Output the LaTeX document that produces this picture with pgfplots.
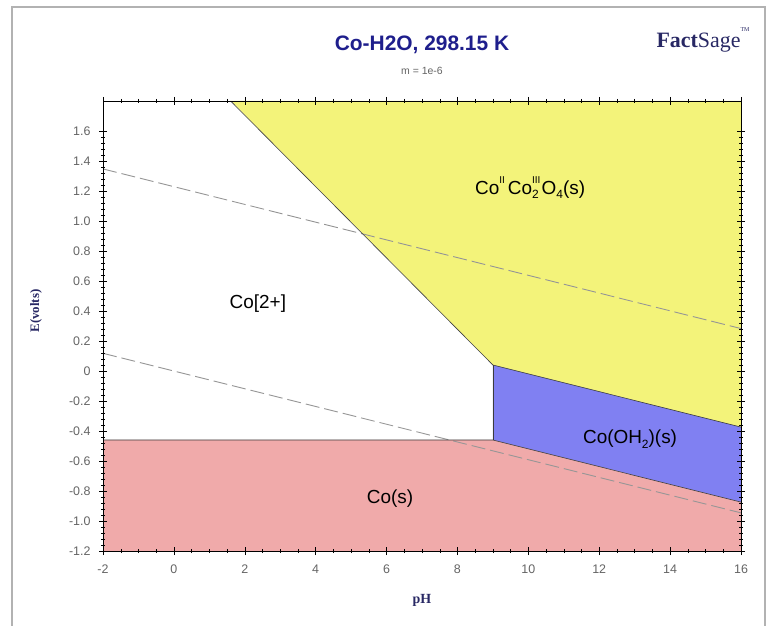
\documentclass[border=0pt]{standalone}
\usepackage{pgfplots}
\pgfplotsset{compat=1.18}
\usepackage{fontspec}
\setmainfont{Liberation Sans}
\newfontfamily\serifbf{Liberation Serif}
\definecolor{yel}{RGB}{243,243,122}
\definecolor{blu}{RGB}{128,128,242}
\definecolor{pnk}{RGB}{240,170,170}
\definecolor{navy}{RGB}{30,30,140}
\definecolor{lab}{RGB}{40,40,100}
\definecolor{tickc}{RGB}{100,100,100}
\definecolor{dashc}{RGB}{150,150,150}
\definecolor{bnd}{RGB}{60,60,60}
\begin{document}
\begin{tikzpicture}
\begin{axis}[name=ax, at={(0,0)}, anchor=south west, scale only axis,
  width=638bp, height=450bp,
  xmin=-2, xmax=16, ymin=-1.2, ymax=1.8,
  xtick={-2,0,2,4,6,8,10,12,14,16},
  xticklabels={-2,0,2,4,6,8,10,12,14,16},
  ytick={-1.2,-1,-0.8,-0.6,-0.4,-0.2,0,0.2,0.4,0.6,0.8,1,1.2,1.4,1.6},
  yticklabels={-1.2,-1.0,-0.8,-0.6,-0.4,-0.2,0,0.2,0.4,0.6,0.8,1.0,1.2,1.4,1.6},
  minor x tick num=3, minor y tick num=4,
  tick align=center, major tick length=8bp, minor tick length=4bp,
  tick style={black, line width=0.4pt},
  axis line style={black, line width=0.7pt},
  ticklabel style={font=\fontsize{12.5}{14}\selectfont, text=tickc},
  xticklabel style={yshift=-6bp},
  yticklabel style={xshift=-5bp},
  axis on top,
]
% regions
\addplot[fill=yel, draw=none] coordinates {(1.6,1.8) (16,1.8) (16,-0.374) (9,0.04)} --cycle;
\addplot[fill=white, draw=none] coordinates {(-2,1.8) (1.6,1.8) (9,0.04) (9,-0.46) (-2,-0.46)} --cycle;
\addplot[fill=blu, draw=none] coordinates {(9,0.04) (16,-0.374) (16,-0.874) (9,-0.46)} --cycle;
\addplot[fill=pnk, draw=none] coordinates {(-2,-1.2) (16,-1.2) (16,-0.874) (9,-0.46) (-2,-0.46)} --cycle;
% water stability lines
\addplot[dashc, dash pattern=on 14bp off 5bp, line width=0.9bp] coordinates {(-2,1.347) (16,0.283)};
\addplot[dashc, dash pattern=on 14bp off 5bp, line width=0.9bp] coordinates {(-2,0.118) (16,-0.946)};
% boundaries
\addplot[bnd, line width=0.6bp] coordinates {(1.6,1.8) (9,0.04) (16,-0.374)};
\addplot[bnd, line width=0.6bp] coordinates {(9,0.04) (9,-0.46)};
\addplot[bnd, line width=0.6bp] coordinates {(-2,-0.46) (9,-0.46) (16,-0.874)};
% labels
\node[font=\fontsize{19}{22}\selectfont] at (axis cs:10.05,1.22) {Co\raisebox{0.55em}{\fontsize{10}{10}\selectfont II}\,Co\rlap{\raisebox{0.55em}{\fontsize{10}{10}\selectfont III}}\raisebox{-0.25em}{\fontsize{12}{12}\selectfont 2}\hspace{0.15em}O\raisebox{-0.25em}{\fontsize{12}{12}\selectfont 4}(s)};
\node[font=\fontsize{19}{22}\selectfont] at (axis cs:2.37,0.45) {Co[2+]};
\node[font=\fontsize{19}{22}\selectfont] at (axis cs:12.87,-0.455) {Co(OH\raisebox{-0.25em}{\fontsize{12}{12}\selectfont 2})(s)};
\node[font=\fontsize{19}{22}\selectfont] at (axis cs:6.1,-0.85) {Co(s)};
\end{axis}
% outer frame
\draw[gray!60, line width=1.4bp] (-91bp,-80bp) -- (-91bp,544bp) -- (662bp,544bp) -- (662bp,-80bp);
% titles
\node[font=\bfseries\fontsize{21}{24}\selectfont, text=navy] at (319bp,506bp) {Co-H2O, 298.15 K};
\node[font=\fontsize{10.5}{12}\selectfont, text=tickc] at (319bp,480bp) {m = 1e-6};
\node[font=\serifbf\fontsize{22}{24}\selectfont, text=lab] at (600bp,511bp) {\textbf{Fact}Sage\raisebox{0.7em}{\fontsize{6}{6}\selectfont TM}};
\node[font=\serifbf\bfseries\fontsize{13}{15}\selectfont, text=lab, rotate=90] at (-67bp,240bp) {E(volts)};
\node[font=\serifbf\bfseries\fontsize{14}{16}\selectfont, text=lab] at (319bp,-49bp) {pH};
\pgfresetboundingbox
\useasboundingbox (-103bp,-75bp) rectangle (672bp,551bp);
\end{tikzpicture}
\end{document}
